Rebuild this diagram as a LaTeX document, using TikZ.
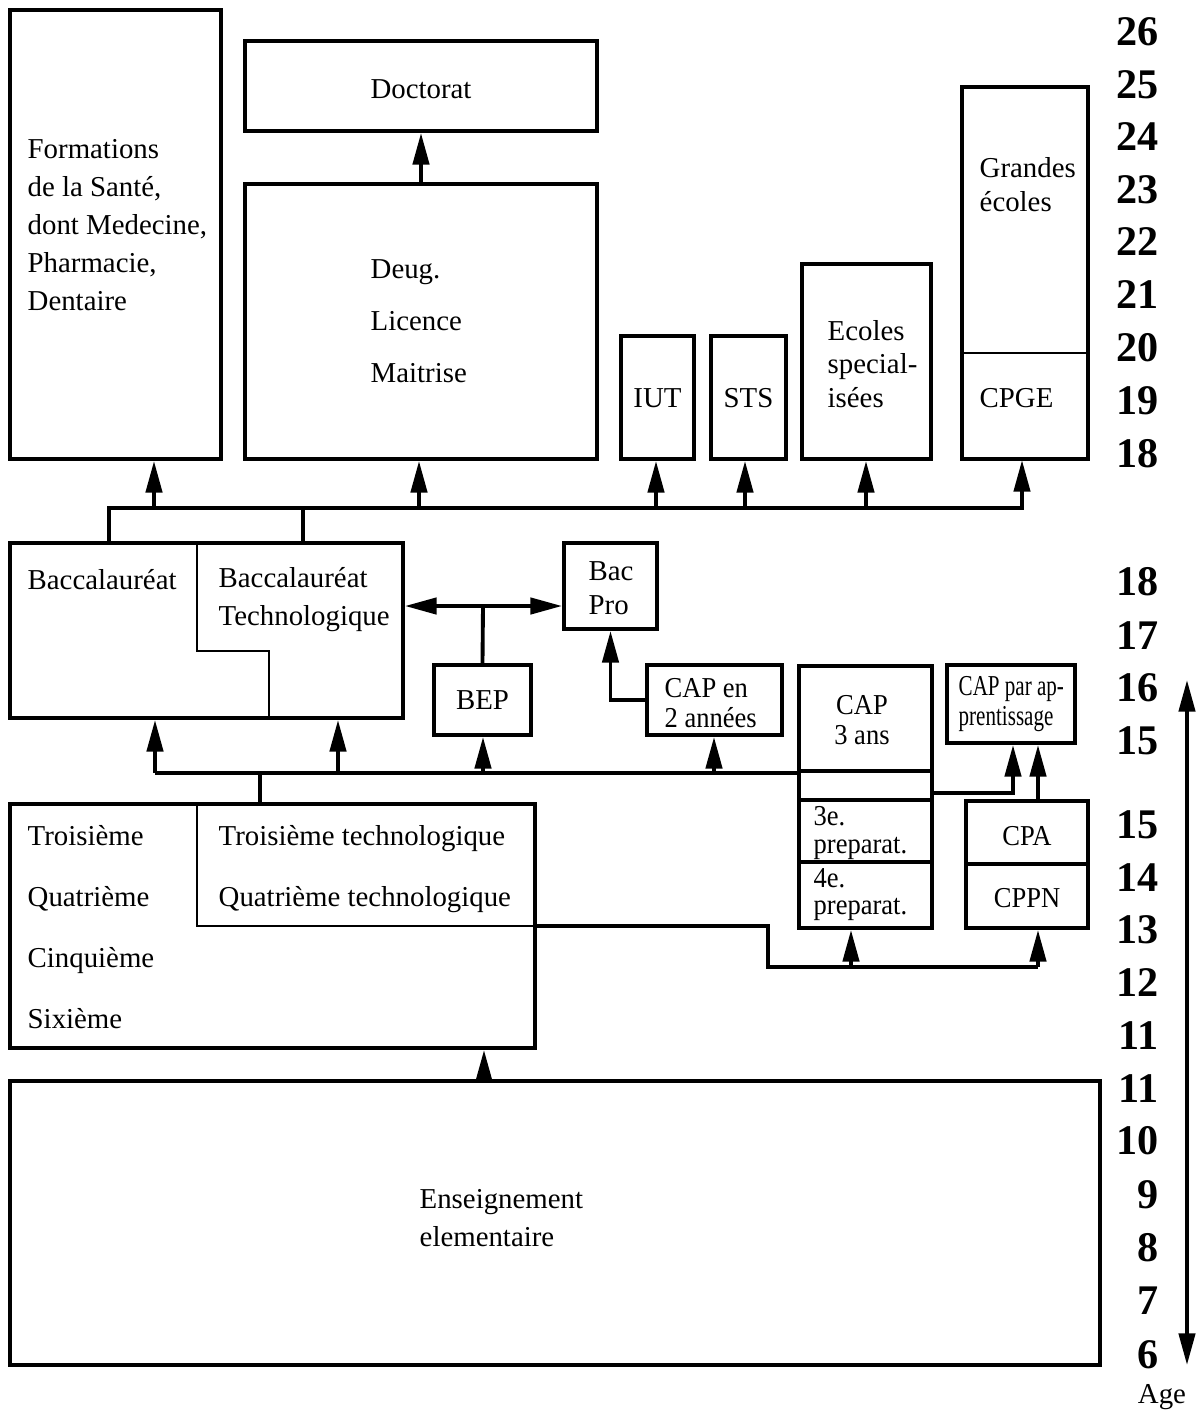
\documentclass[tikz,border=0pt]{standalone}
\usepackage{fontspec}
\setmainfont{Liberation Serif}
\newfontfamily\narrowfont[FakeStretch=0.92]{Liberation Serif}
\newfontfamily\tightfont[FakeStretch=0.73]{Liberation Serif}
\usepackage{tikz}
\usetikzlibrary{arrows.meta,positioning,fit,calc}

\begin{document}
\begin{tikzpicture}[
    x=0.01cm,y=-0.01cm,
    box/.style={draw,line width=1.1pt,inner sep=0pt},
    thinbox/.style={draw,line width=0.6pt,inner sep=0pt},
    divider/.style={line width=0.6pt},
    txt/.style={inner sep=0pt,anchor=west,align=left,font=\fontsize{8.2}{#1}\selectfont},
    txt/.default=10.8,
    ctr/.style={inner sep=0pt,align=center,font=\fontsize{8.2}{#1}\selectfont},
    ctr/.default=10.8,
    ntxt/.style={txt,font=\narrowfont\fontsize{8.2}{#1}\selectfont},
    ntxt/.default=8.5,
    nctr/.style={ctr,font=\narrowfont\fontsize{8.2}{#1}\selectfont},
    nctr/.default=8.5,
    agenum/.style={inner sep=0pt,anchor=east,font=\fontsize{12}{14}\selectfont\bfseries},
    conn/.style={line width=1.1pt},
    arr/.style={conn,-{Triangle[length=9pt,width=4.6pt]}},
    darr/.style={conn,{Triangle[length=9pt,width=4.6pt]}-{Triangle[length=9pt,width=4.6pt]}},
  ]
  \useasboundingbox (0,0) rectangle (1199,1414);

  % higher education
  \node[box,fit={(10,10)(221,459)}] (sante) {};
  \node[box,fit={(245,41)(597,131)}] (doct) {};
  \node[box,fit={(245,184)(597,459)}] (deug) {};
  \node[box,fit={(621,336)(694,459)}] (iut) {};
  \node[box,fit={(711,336)(786,459)}] (sts) {};
  \node[box,fit={(802,264)(931,459)}] (ecoles) {};
  \node[box,fit={(962,87)(1088,459)}] (grandes) {};
  \node[thinbox,fit={(962,353)(1088,459)}] (cpge) {};

  \node[txt] (tsante) at (27,225) {Formations\\de la Santé,\\dont Medecine,\\Pharmacie,\\Dentaire};
  \node[ctr] (tdoct) at (doct |- 0,89) {Doctorat};
  \node[txt=14.7] (tdeug) at (370,321) {Deug.\\Licence\\Maitrise};
  \node[ctr] (tiut) at (iut |- 0,398) {IUT};
  \node[ctr] (tsts) at (sts |- 0,398) {STS};
  \node[txt=9.6] (tecoles) at (827,364) {Ecoles\\special-\\isées};
  \node[txt=9.6] (tgrandes) at (979,185) {Grandes\\écoles};
  \node[txt] (tcpge) at (979,398) {CPGE};

  % lycée
  \node[box,fit={(10,543)(403,718)}] (bac) {};
  \node[box,fit={(564,543)(657,629)}] (bacpro) {};
  \node[box,fit={(434,665)(531,735)}] (bep) {};
  \node[box,fit={(647,665)(782,735)}] (cap2) {};
  \node[box,fit={(799,666)(932,771)}] (cap3) {};
  \node[box,fit={(799,771)(932,800)}] (cap3gap) {};
  \node[box,fit={(799,800)(932,862)}] (prep3) {};
  \node[box,fit={(799,862)(932,928)}] (prep4) {};
  \node[box,fit={(947,665)(1075,743)}] (capapp) {};
  \node[box,fit={(966,801)(1088,864)}] (cpa) {};
  \node[box,fit={(966,864)(1088,928)}] (cppn) {};
  \draw[divider] (197,543) |- (269,651) -- (269,718);

  \node[txt] (tbac) at (27,580) {Baccalauréat};
  \node[txt] (tbactech) at (218,600) {Baccalauréat\\Technologique};
  \node[txt=9.6] (tbacpro) at (588,588) {Bac\\Pro};
  \node[ctr] (tbep) at (bep) {BEP};
  \node[ntxt] (tcap2) at (664,703) {CAP en\\2 années};
  \node[nctr] (tcap3) at (862,720) {CAP\\3 ans};
  \node[txt=8.5,font=\tightfont\fontsize{8.2}{8.5}\selectfont] (tcapapp) at (958,704) {CAP par ap-\\prentissage};
  \node[ntxt=7.7] (tprep3) at (813,833) {3e.\\preparat.};
  \node[ntxt=7.7] (tprep4) at (813,895) {4e.\\preparat.};
  \node[nctr] (tcpa) at (cpa |- 0,836) {CPA};
  \node[nctr] (tcppn) at (cppn |- 0,898) {CPPN};

  % collège and école
  \node[box,fit={(10,804)(535,1048)}] (trois) {};
  \node[box,fit={(10,1081)(1100,1365)}] (ens) {};
  \draw[divider] (197,804) |- (535,926);

  \node[txt=17.3] (tcol) at (27,927) {Troisième\\Quatrième\\Cinquième\\Sixième};
  \node[txt=17.3] (tcoltech) at (218,869) {Troisième technologique\\Quatrième technologique};
  \node[txt] (tens) at (419,1218) {Enseignement\\elementaire};

  % upper bus
  \coordinate (busA) at (109,508);
  \coordinate (busB) at (303,508);
  \coordinate (busE) at (1024,508);
  \draw[conn] (busA |- bac.north) -- (busA) -- (busE);
  \draw[conn] (busB |- bac.north) -- (busB);
  \draw[arr] (deug.north) -- (doct.south);
  \foreach \n/\x in {sante/154,deug/419,iut/656,sts/745,ecoles/866,cpge/1022} {
    \coordinate (up\n) at (\x,508);
    \draw[arr] (up\n) -- (up\n |- \n.south);
  }

  % bac, bep, cap
  \coordinate (mid) at (483,606);
  \draw[conn] (bep.north) -- (mid);
  \draw[arr] (mid) -- (mid -| bac.east);
  \draw[arr] (mid) -- (mid -| bacpro.west);
  \draw[arr] (cap2.west) -| (bacpro.south);

  % lower bus
  \coordinate (lbL) at (155,773);
  \coordinate (lbT) at (260,773);
  \draw[conn] (trois.north -| lbT) -- (lbT);
  \draw[conn] (lbL) -- (lbL -| cap3.west);
  \foreach \n/\x in {bac/155,bac/338,bep/483,cap2/714} {
    \coordinate (lo) at (\x,773);
    \draw[arr] (lo) -- (lo |- \n.south);
  }
  \coordinate (k1) at (1013,793);
  \draw[arr] (k1 -| cap3gap.east) -| (k1 |- capapp.south);
  \coordinate (k2) at (1038,801);
  \draw[arr] (k2) -- (k2 |- capapp.south);

  % route to preparatory classes
  \coordinate (r0) at (535,926);
  \coordinate (r1) at (768,967);
  \coordinate (r2) at (1038,967);
  \coordinate (r3) at (851,967);
  \draw[conn] (r0) -| (r1) -- (r2);
  \draw[arr] (r2) -- (r2 |- cppn.south);
  \draw[arr] (r3) -- (r3 |- prep4.south);
  \coordinate (e1) at (484,1081);
  \draw[arr] (e1) -- (e1 |- trois.south);

  % age scale
  \foreach \a/\y in {26/32,25/85,24/137,23/190,22/242,21/295,20/348,19/401,18/454,
                     18/582,17/636,16/688,15/741,
                     15/825,14/878,13/930,12/983,11/1036,11/1089,10/1141,9/1195,8/1248,7/1301,6/1355}
    \node[agenum] (age\y) at (1159,\y) {\a};
  \coordinate (agetop) at (1187,680);
  \coordinate (agebot) at (1187,1365);
  \draw[darr] (agetop) -- (agebot);
  \node[ctr] (tage) at (1162,1397) {Age};
\end{tikzpicture}
\end{document}
